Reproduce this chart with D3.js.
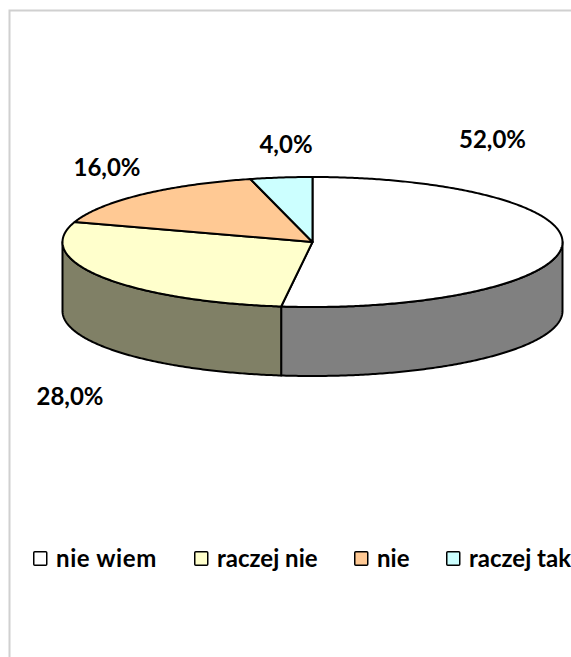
<!DOCTYPE html>
<html>
<head>
<meta charset="utf-8">
<script src="https://cdn.jsdelivr.net/npm/d3@7/dist/d3.min.js"></script>
<style>
html,body{margin:0;padding:0;background:#fff;}
svg{display:block;}
text{font-family:Lato,"Open Sans",sans-serif;font-weight:700;fill:#000;}
</style>
</head>
<body>
<svg id="c" width="571" height="657"></svg>
<script>
const categories = ["nie wiem", "raczej nie", "nie", "raczej tak"];
const values = [52, 28, 16, 4];
const valueLabels = ["52,0%", "28,0%", "16,0%", "4,0%"];
const topColors = ["#ffffff", "#ffffcc", "#ffc994", "#ccffff"];
const sideColors = ["#808080", "#808066", "#80654a", "#668080"];

const W = 571, H = 657;
const cx = 312.5, cy = 242, rx = 250, ry = 65, depth = 69;
const labelPos = [[492.5, 148], [70, 405], [107, 176], [286, 153]];
const legendX = [33, 194, 354, 446];
const legendSpacing = [0.6, 0, 0, 0];
const legendTextDx = 23;

const svg = d3.select("#c");

// chart-area border (top and left are visible; the rest is cropped)
svg.append("path")
  .attr("d", d3.line()([[W, 10.5], [9.5, 10.5], [9.5, H]]))
  .attr("fill", "none").attr("stroke", "#d0d0d0").attr("stroke-width", 2);

const pie = d3.pie().sort(null).startAngle(0).endAngle(2 * Math.PI);
const arcs = pie(values);

const px = d3.scaleLinear().domain([-1, 1]).range([cx - rx, cx + rx]);
const py = d3.scaleLinear().domain([-1, 1]).range([cy - ry, cy + ry]);
const pt = (a, dz = 0) => [px(Math.sin(a)), py(-Math.cos(a)) + dz];
const sample = (a0, a1) => {
  const n = Math.max(2, Math.ceil((a1 - a0) / 0.01));
  return d3.range(n + 1).map(i => a0 + (a1 - a0) * i / n);
};
const line = d3.line();

// side walls: only the part of each slice on the front half of the rim
const frontStart = Math.PI / 2, frontEnd = 3 * Math.PI / 2;
arcs.forEach((d, i) => {
  const a0 = Math.max(d.startAngle, frontStart), a1 = Math.min(d.endAngle, frontEnd);
  if (a1 <= a0) return;
  const s = sample(a0, a1);
  const pts = s.map(a => pt(a)).concat(s.slice().reverse().map(a => pt(a, depth)));
  svg.append("path")
    .attr("d", line(pts) + "Z")
    .attr("fill", sideColors[i]).attr("stroke", "#000").attr("stroke-width", 2)
    .attr("stroke-linejoin", "round");
});

// top faces
arcs.forEach((d, i) => {
  const pts = [[cx, cy]].concat(sample(d.startAngle, d.endAngle).map(a => pt(a)));
  svg.append("path")
    .attr("d", line(pts) + "Z")
    .attr("fill", topColors[i]).attr("stroke", "#000").attr("stroke-width", 2)
    .attr("stroke-linejoin", "round");
});

// value labels
svg.selectAll("text.v").data(valueLabels).join("text")
  .attr("class", "v")
  .attr("x", (d, i) => labelPos[i][0]).attr("y", (d, i) => labelPos[i][1])
  .attr("text-anchor", "middle").attr("font-size", 24).text(d => d);

// legend
const lg = svg.selectAll("g.l").data(categories).join("g")
  .attr("class", "l").attr("transform", (d, i) => `translate(${legendX[i]},551)`);
lg.append("rect").attr("x", 0.75).attr("y", 0.75).attr("width", 13).attr("height", 13.5)
  .attr("rx", 1).attr("fill", (d, i) => topColors[i]).attr("stroke", "#000").attr("stroke-width", 1.5);
lg.append("text").attr("x", legendTextDx).attr("y", 16).attr("font-size", 24)
  .attr("letter-spacing", (d, i) => legendSpacing[i]).text(d => d);
</script>
</body>
</html>
